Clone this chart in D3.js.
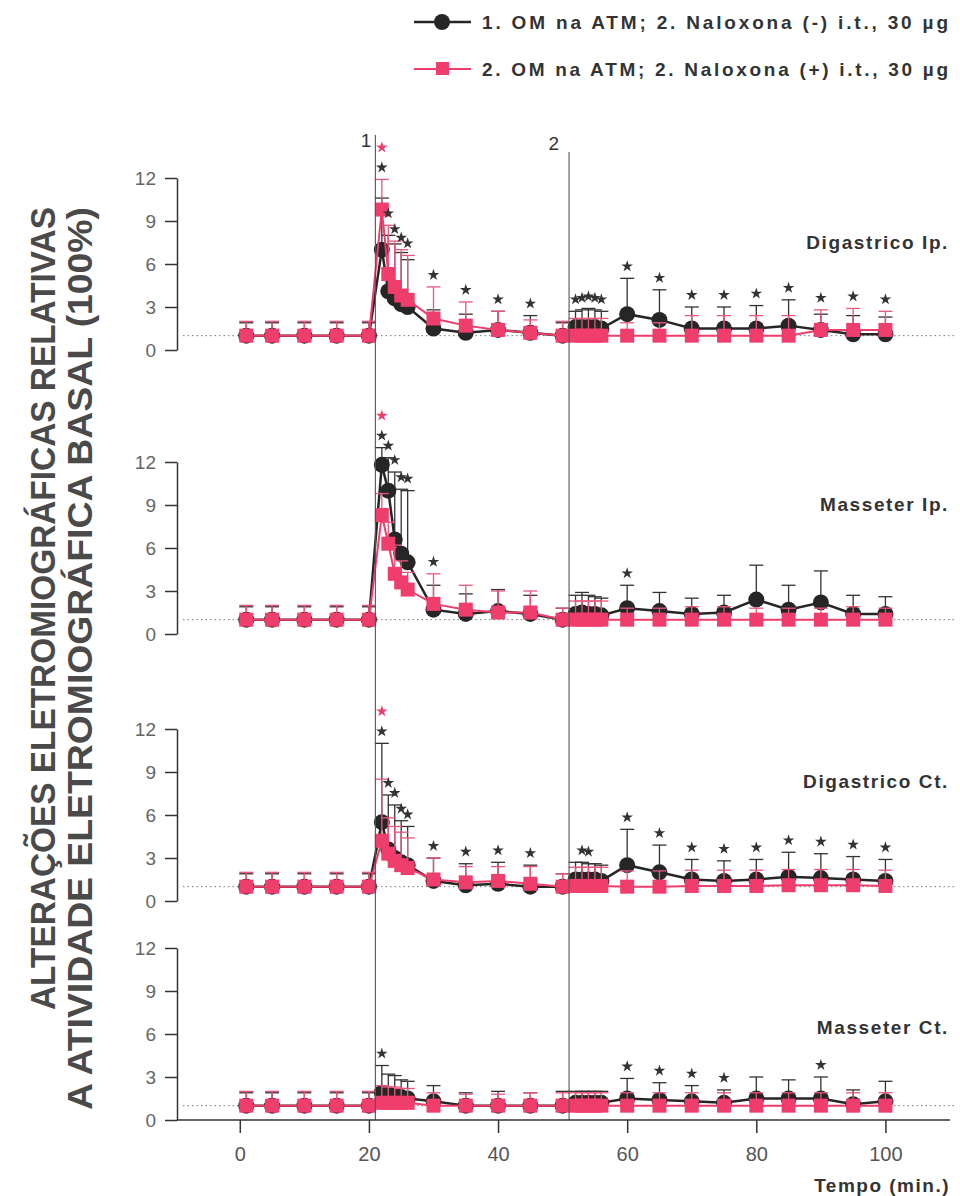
<!DOCTYPE html>
<html>
<head>
  <meta charset="utf-8">
  <title>EMG - OM na ATM / Naloxona</title>
  <script src="https://cdn.jsdelivr.net/npm/d3@7"></script>
  <style>
    body { margin: 0; background: #fff; }
    svg { display: block; font-family: "Liberation Sans", Arial, sans-serif; }
    .yaxis path, .yaxis line { stroke: #333; stroke-width: 1.5; }
    .yaxis text { fill: #666; font-size: 19px; }
    .xaxis line { stroke: #333; stroke-width: 1.5; }
    .xaxis text { fill: #555; font-size: 20px; }
    .bold { font-weight: bold; fill: #333; }
  </style>
</head>
<body>
<svg id="chart" width="960" height="1196"></svg>
<script>
  // time points (min)
  var times = [1, 5, 10, 15, 20, 22, 23, 24, 25, 26, 30, 35, 40, 45, 50, 52, 53, 54, 55, 56, 60, 65, 70, 75, 80, 85, 90, 95, 100];
  var xTicks = [0, 20, 40, 60, 80, 100];
  var yTicks = [0, 3, 6, 9, 12];
  var events = [{ t: 21, label: '1' }, { t: 51, label: '2' }];

  var seriesNames = ['1. OM na ATM; 2. Naloxona (-) i.t., 30 \u00b5g', '2. OM na ATM; 2. Naloxona (+) i.t., 30 \u00b5g'];
  var panelNames = ['Digastrico Ip.', 'Masseter Ip.', 'Digastrico Ct.', 'Masseter Ct.'];

  // Digastrico Ip.
  var digIpBlack = [1, 1, 1, 1, 1, 7.0, 4.1, 3.6, 3.2, 3.0, 1.5, 1.2, 1.4, 1.2, 1.0, 1.6, 1.6, 1.6, 1.6, 1.5, 2.5, 2.1, 1.5, 1.5, 1.5, 1.7, 1.4, 1.1, 1.1];
  var digIpBlackErr = [0.9, 0.9, 0.9, 0.9, 0.9, 3.6, 3.9, 3.8, 3.6, 3.3, 1.3, 1.3, 1.3, 1.2, 0.9, 1.1, 1.2, 1.3, 1.2, 1.2, 2.5, 2.1, 1.5, 1.5, 1.6, 1.8, 1.1, 1.3, 1.2];
  var digIpPink = [1, 1, 1, 1, 1, 9.8, 5.3, 4.4, 3.8, 3.5, 2.2, 1.7, 1.4, 1.2, 1.0, 1.0, 1.0, 1.0, 1.0, 1.0, 1.0, 1.0, 1.0, 1.0, 1.0, 1.0, 1.4, 1.4, 1.4];
  var digIpPinkErr = [1.0, 1.0, 1.0, 1.0, 1.0, 2.1, 3.4, 3.2, 3.2, 3.1, 2.2, 1.65, 1.3, 0.9, 1.0, 1.2, 1.2, 1.2, 1.2, 1.2, 0.9, 0.9, 1.4, 1.4, 1.4, 1.4, 1.4, 1.5, 1.3];
  var digIpStarsBlack = [22, 23, 24, 25, 26, 30, 35, 40, 45, 52, 53, 54, 55, 56, 60, 65, 70, 75, 80, 85, 90, 95, 100];
  var digIpStarsPink = [22];

  // Masseter Ip.
  var masIpBlack = [1, 1, 1, 1, 1, 11.8, 10.0, 6.6, 5.6, 5.0, 1.7, 1.4, 1.6, 1.4, 1.0, 1.4, 1.5, 1.4, 1.4, 1.3, 1.8, 1.6, 1.4, 1.5, 2.4, 1.7, 2.2, 1.4, 1.4];
  var masIpBlackErr = [0.9, 0.9, 0.9, 0.9, 0.9, 1.2, 2.3, 4.7, 4.5, 5.0, 1.7, 1.4, 1.5, 1.3, 0.8, 1.3, 1.4, 1.3, 1.2, 1.2, 1.6, 1.3, 1.1, 1.2, 2.4, 1.7, 2.2, 1.3, 1.2];
  var masIpPink = [1, 1, 1, 1, 1, 8.3, 6.3, 4.2, 3.6, 3.1, 2.1, 1.7, 1.5, 1.5, 1.0, 1.0, 1.0, 1.0, 1.0, 1.0, 1.0, 1.0, 1.0, 1.0, 1.0, 1.0, 1.0, 1.0, 1.0];
  var masIpPinkErr = [1.0, 1.0, 1.0, 1.0, 1.0, 1.5, 1.5, 2.0, 1.5, 1.2, 2.1, 1.7, 1.5, 1.5, 0.8, 1.3, 1.3, 1.3, 1.3, 1.3, 0.8, 0.8, 0.9, 0.9, 0.8, 0.8, 0.8, 0.9, 0.8];
  var masIpStarsBlack = [22, 23, 24, 25, 26, 30, 60];
  var masIpStarsPink = [22];

  // Digastrico Ct.
  var digCtBlack = [1, 1, 1, 1, 1, 5.5, 3.6, 3.0, 2.7, 2.5, 1.4, 1.1, 1.2, 1.0, 1.0, 1.5, 1.5, 1.5, 1.5, 1.4, 2.5, 2.0, 1.5, 1.4, 1.5, 1.7, 1.6, 1.5, 1.4];
  var digCtBlackErr = [0.9, 0.9, 0.9, 0.9, 0.9, 5.5, 3.8, 3.7, 2.9, 2.7, 1.6, 1.5, 1.5, 1.5, 0.9, 1.2, 1.2, 1.1, 1.1, 1.1, 2.5, 1.9, 1.4, 1.4, 1.4, 1.7, 1.7, 1.6, 1.5];
  var digCtPink = [1, 1, 1, 1, 1, 4.2, 3.3, 2.8, 2.5, 2.3, 1.5, 1.3, 1.4, 1.2, 1.0, 1.05, 1.05, 1.05, 1.05, 1.05, 1.0, 1.0, 1.05, 1.05, 1.05, 1.1, 1.1, 1.1, 1.05];
  var digCtPinkErr = [1.0, 1.0, 1.0, 1.0, 1.0, 4.3, 2.5, 2.4, 2.3, 2.1, 1.5, 1.1, 1.0, 1.2, 0.9, 1.3, 1.3, 1.3, 1.3, 1.3, 1.1, 1.1, 1.1, 1.1, 1.1, 1.1, 1.1, 1.1, 1.1];
  var digCtStarsBlack = [22, 23, 24, 25, 26, 30, 35, 40, 45, 53, 54, 60, 65, 70, 75, 80, 85, 90, 95, 100];
  var digCtStarsPink = [22];

  // Masseter Ct.
  var masCtBlack = [1, 1, 1, 1, 1, 1.9, 1.8, 1.7, 1.6, 1.5, 1.3, 1.0, 1.0, 1.0, 1.0, 1.2, 1.2, 1.2, 1.2, 1.2, 1.5, 1.4, 1.3, 1.2, 1.5, 1.5, 1.5, 1.1, 1.3];
  var masCtBlackErr = [0.9, 0.9, 0.9, 0.9, 0.9, 1.9, 1.4, 1.4, 1.2, 1.2, 1.1, 0.9, 1.0, 0.9, 1.0, 0.8, 0.8, 0.8, 0.8, 0.8, 1.4, 1.2, 1.1, 0.9, 1.5, 1.3, 1.5, 1.0, 1.4];
  var masCtPink = [1, 1, 1, 1, 1, 1.2, 1.2, 1.2, 1.2, 1.2, 1.0, 1.0, 1.0, 1.0, 1.0, 1.0, 1.0, 1.0, 1.0, 1.0, 1.0, 1.0, 1.0, 1.0, 1.0, 1.0, 1.0, 1.0, 1.0];
  var masCtPinkErr = [1.0, 1.0, 1.0, 1.0, 1.0, 1.2, 1.1, 1.1, 1.0, 1.0, 0.9, 0.8, 0.8, 0.9, 0.9, 0.9, 0.9, 0.9, 0.9, 0.9, 0.9, 0.9, 0.9, 0.9, 0.9, 0.9, 0.9, 0.9, 0.9];
  var masCtStarsBlack = [22, 60, 65, 70, 75, 90];
  var masCtStarsPink = [];

  var panels = [
    { name: panelNames[0], black: digIpBlack, blackErr: digIpBlackErr, pink: digIpPink, pinkErr: digIpPinkErr, starsBlack: digIpStarsBlack, starsPink: digIpStarsPink },
    { name: panelNames[1], black: masIpBlack, blackErr: masIpBlackErr, pink: masIpPink, pinkErr: masIpPinkErr, starsBlack: masIpStarsBlack, starsPink: masIpStarsPink },
    { name: panelNames[2], black: digCtBlack, blackErr: digCtBlackErr, pink: digCtPink, pinkErr: digCtPinkErr, starsBlack: digCtStarsBlack, starsPink: digCtStarsPink },
    { name: panelNames[3], black: masCtBlack, blackErr: masCtBlackErr, pink: masCtPink, pinkErr: masCtPinkErr, starsBlack: masCtStarsBlack, starsPink: masCtStarsPink }
  ];

  var BLACK = '#262626', PINK = '#ef3d6c', PINK_BAR = '#e9587c';

  var svg = d3.select('#chart');
  var x = d3.scaleLinear().domain([-10.5, 110]).range([172, 950]);
  var axisX = 177;
  var panelBottoms = [350, 634, 901, 1120], panelH = 172;
  var labelBaselines = [249, 511, 788, 1034];
  var star = d3.symbol().type(d3.symbolStar).size(42);

  function drawSeries(g, y, vals, errs, color, barColor, square) {
    var pts = times.map((t, i) => ({ t: t, v: vals[i], e: errs[i] }));

    // upper error bars
    var eb = g.append('g').attr('stroke', barColor).attr('stroke-width', 1.3);
    eb.selectAll('.eb').data(pts).enter().append('line')
      .attr('x1', d => x(d.t)).attr('x2', d => x(d.t))
      .attr('y1', d => y(d.v)).attr('y2', d => y(d.v + d.e));
    eb.selectAll('.cap').data(pts).enter().append('line')
      .attr('x1', d => x(d.t) - 7).attr('x2', d => x(d.t) + 7)
      .attr('y1', d => y(d.v + d.e)).attr('y2', d => y(d.v + d.e));

    g.append('path').datum(pts)
      .attr('fill', 'none').attr('stroke', color).attr('stroke-width', square ? 2 : 2.5)
      .attr('d', d3.line().x(d => x(d.t)).y(d => y(d.v)));

    if (square) {
      g.selectAll('.sq').data(pts).enter().append('rect')
        .attr('x', d => x(d.t) - 7).attr('y', d => y(d.v) - 7)
        .attr('width', 14).attr('height', 14).attr('fill', color);
    } else {
      g.selectAll('.ci').data(pts).enter().append('circle')
        .attr('cx', d => x(d.t)).attr('cy', d => y(d.v)).attr('r', 8)
        .attr('fill', color);
    }
  }

  panels.forEach(function (p, k) {
    var y = d3.scaleLinear().domain([0, 12]).range([panelBottoms[k], panelBottoms[k] - panelH]);
    var g = svg.append('g');

    g.append('g').attr('class', 'yaxis').attr('transform', 'translate(' + axisX + ',0)')
      .call(d3.axisLeft(y).tickValues(yTicks).tickSize(12).tickSizeOuter(0).tickPadding(9));

    // 100% basal reference
    g.append('line')
      .attr('x1', axisX + 6).attr('x2', 956).attr('y1', y(1)).attr('y2', y(1))
      .attr('stroke', '#777').attr('stroke-width', 1).attr('stroke-dasharray', '1.5,3');

    g.append('text').attr('class', 'bold')
      .attr('x', 949).attr('y', labelBaselines[k])
      .attr('text-anchor', 'end').attr('font-size', 19).attr('letter-spacing', 1.6)
      .text(p.name);

    drawSeries(g, y, p.black, p.blackErr, BLACK, '#333', false);
    drawSeries(g, y, p.pink, p.pinkErr, PINK, PINK_BAR, true);

    function topAt(t) {
      var i = times.indexOf(t);
      return Math.max(p.black[i] + p.blackErr[i], p.pink[i] + p.pinkErr[i]);
    }
    g.selectAll('.sb').data(p.starsBlack).enter().append('path')
      .attr('d', star).attr('fill', '#333')
      .attr('transform', t => 'translate(' + x(t) + ',' + (y(topAt(t)) - 12) + ')');
    g.selectAll('.sp').data(p.starsPink).enter().append('path')
      .attr('d', star).attr('fill', PINK)
      .attr('transform', t => 'translate(' + x(t) + ',' + (y(topAt(t)) - 12 - (p.starsBlack.indexOf(t) >= 0 ? 20 : 0)) + ')');
  });

  // event lines (1: OM na ATM, 2: naloxona)
  var evTop = [135, 152];
  events.forEach(function (ev, i) {
    svg.append('line')
      .attr('x1', x(ev.t)).attr('x2', x(ev.t)).attr('y1', evTop[i]).attr('y2', 1120)
      .attr('stroke', '#555').attr('stroke-width', 1.1);
    svg.append('text')
      .attr('x', x(ev.t) - (i ? 10 : 4)).attr('y', evTop[i] + (i ? -2 : 12))
      .attr('text-anchor', 'end').attr('font-size', 19).attr('fill', '#333')
      .text(ev.label);
  });

  // x axis
  var xa = svg.append('g').attr('class', 'xaxis').attr('transform', 'translate(0,1120)')
    .call(d3.axisBottom(x).tickValues(xTicks).tickSize(13).tickPadding(14).tickSizeOuter(0));
  xa.select('.domain').remove();
  xa.append('line').attr('x1', axisX).attr('x2', 950).attr('y1', 0).attr('y2', 0)
    .attr('stroke', '#333').attr('stroke-width', 1.5);
  svg.append('text').attr('class', 'bold')
    .attr('x', 950).attr('y', 1192).attr('text-anchor', 'end')
    .attr('font-size', 19).attr('letter-spacing', 1.5)
    .text('Tempo (min.)');

  // y axis title (two lines)
  var yTitle = ['ALTERA\u00c7\u00d5ES ELETROMIOGR\u00c1FICAS RELATIVAS', 'A ATIVIDADE ELETROMIOGR\u00c1FICA BASAL (100%)'];
  var yTitleBase = [55, 92], yTitleStart = [1010, 1110], yTitleLen = [803, 903];
  yTitle.forEach(function (s, i) {
    svg.append('text')
      .attr('transform', 'translate(' + yTitleBase[i] + ',' + yTitleStart[i] + ') rotate(-90)')
      .attr('font-size', 35).attr('font-weight', 'bold').attr('fill', '#4a4a4a')
      .attr('textLength', yTitleLen[i]).attr('lengthAdjust', 'spacingAndGlyphs')
      .text(s);
  });

  // legend
  var legend = svg.append('g');
  var legY = [22, 69];
  seriesNames.forEach(function (s, i) {
    var row = legend.append('g').attr('transform', 'translate(0,' + legY[i] + ')');
    row.append('line').attr('x1', 414).attr('x2', 471).attr('y1', 0).attr('y2', 0)
      .attr('stroke', i ? PINK : BLACK).attr('stroke-width', i ? 2 : 2.5);
    if (i) {
      row.append('rect').attr('x', 436).attr('y', -7).attr('width', 13).attr('height', 13).attr('fill', PINK);
    } else {
      row.append('circle').attr('cx', 442).attr('cy', 0).attr('r', 8).attr('fill', BLACK);
    }
    row.append('text').attr('class', 'bold')
      .attr('x', 482).attr('y', 7).attr('font-size', 19)
      .attr('textLength', 466).attr('lengthAdjust', 'spacing')
      .text(s);
  });
</script>
</body>
</html>
